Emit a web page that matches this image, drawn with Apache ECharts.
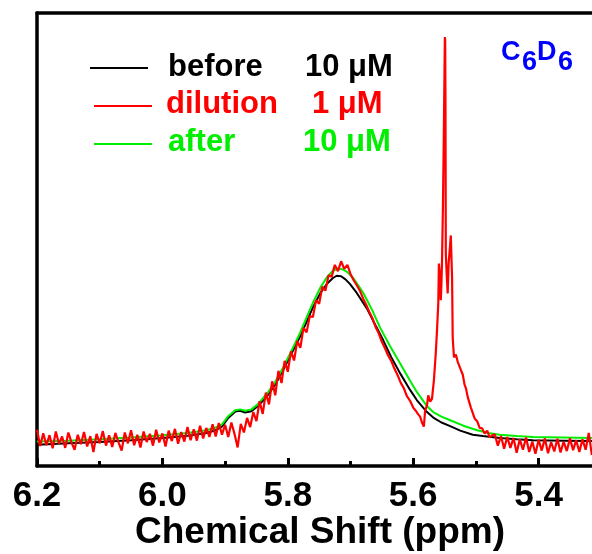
<!DOCTYPE html>
<html>
<head>
<meta charset="utf-8">
<script src="https://cdn.jsdelivr.net/npm/echarts@6/dist/echarts.min.js"></script>
<style>
  html, body { margin: 0; padding: 0; background: #fff; }
  #chart { width: 592px; height: 554px; }
</style>
</head>
<body>
<div id="chart"></div>
<script>
// 1H NMR signal in C6D6: [chemical shift (ppm), intensity (a.u.)]
const before = [
  [6.200, 4.7], [6.150, 5.0], [6.100, 5.3], [6.050, 5.7], [6.000, 6.2], [5.960, 6.7],
  [5.930, 7.3], [5.915, 7.9], [5.905, 8.7], [5.895, 10.6], [5.884, 12.0], [5.876, 12.2],
  [5.868, 11.8], [5.858, 12.1], [5.848, 13.2], [5.833, 15.4], [5.820, 18.0], [5.808, 21.0],
  [5.795, 24.6], [5.781, 28.4], [5.770, 31.8], [5.760, 35.0], [5.748, 38.2], [5.737, 40.3],
  [5.728, 41.5], [5.722, 42.0], [5.715, 41.9], [5.708, 41.2], [5.701, 40.2], [5.690, 38.2],
  [5.674, 34.8], [5.660, 31.0], [5.648, 27.8], [5.635, 24.0], [5.621, 20.5], [5.605, 16.8],
  [5.594, 14.5], [5.578, 11.9], [5.568, 10.7], [5.555, 9.6], [5.541, 8.8], [5.525, 7.8],
  [5.505, 6.9], [5.489, 6.6], [5.462, 6.2], [5.435, 5.9], [5.409, 5.7], [5.360, 5.6],
  [5.315, 5.5]
];

const after = [
  [6.200, 5.4], [6.150, 5.6], [6.100, 5.9], [6.050, 6.3], [6.000, 6.8], [5.960, 7.3],
  [5.930, 7.9], [5.915, 8.5], [5.905, 9.2], [5.895, 11.0], [5.884, 12.3], [5.876, 12.5],
  [5.868, 12.2], [5.858, 12.5], [5.848, 13.6], [5.833, 16.0], [5.820, 18.6], [5.808, 21.6],
  [5.795, 25.2], [5.781, 29.2], [5.770, 32.8], [5.760, 36.0], [5.748, 39.4], [5.737, 41.8],
  [5.728, 43.1], [5.720, 43.6], [5.712, 43.4], [5.705, 42.8], [5.695, 41.4], [5.680, 38.3],
  [5.665, 34.3], [5.653, 30.6], [5.637, 26.5], [5.621, 22.7], [5.605, 18.8], [5.594, 16.3],
  [5.578, 13.2], [5.568, 11.9], [5.555, 10.9], [5.541, 10.1], [5.520, 8.9], [5.498, 7.9],
  [5.480, 7.3], [5.462, 6.9], [5.435, 6.6], [5.409, 6.4], [5.360, 6.3], [5.315, 6.2]
];

const dilution = [
  [6.200, 8.0], [6.195, 4.4], [6.190, 7.2], [6.185, 4.6], [6.180, 6.8], [6.175, 3.9],
  [6.170, 7.6], [6.165, 4.9], [6.160, 6.5], [6.155, 4.0], [6.150, 7.4], [6.145, 5.2],
  [6.140, 3.6], [6.135, 6.9], [6.130, 4.8], [6.125, 7.5], [6.120, 4.3], [6.115, 6.6],
  [6.110, 3.1], [6.105, 7.1], [6.100, 5.0], [6.095, 7.7], [6.090, 4.5], [6.085, 6.8],
  [6.080, 4.2], [6.075, 7.3], [6.070, 5.2], [6.065, 3.4], [6.060, 7.4], [6.055, 5.0],
  [6.050, 7.9], [6.045, 4.6], [6.040, 6.9], [6.035, 4.1], [6.030, 7.6], [6.025, 5.3],
  [6.020, 7.1], [6.015, 4.5], [6.010, 8.0], [6.005, 5.2], [6.000, 7.2], [5.995, 4.3],
  [5.990, 7.8], [5.985, 5.5], [5.980, 8.2], [5.975, 4.9], [5.970, 7.5], [5.965, 5.4],
  [5.960, 8.6], [5.955, 5.7], [5.950, 8.1], [5.945, 5.6], [5.940, 8.9], [5.935, 6.1],
  [5.930, 8.4], [5.925, 6.4], [5.920, 9.2], [5.915, 6.5], [5.910, 9.5], [5.905, 6.9],
  [5.900, 9.1], [5.895, 6.4], [5.890, 9.6], [5.885, 7.1], [5.880, 4.1], [5.875, 9.3],
  [5.870, 7.4], [5.865, 10.6], [5.860, 8.6], [5.855, 11.9], [5.850, 9.9], [5.845, 14.3],
  [5.840, 11.5], [5.835, 16.2], [5.830, 13.6], [5.825, 18.7], [5.820, 15.6], [5.815, 21.0],
  [5.810, 18.3], [5.805, 23.2], [5.800, 20.8], [5.795, 25.3], [5.790, 23.3], [5.785, 27.6],
  [5.780, 26.1], [5.775, 30.5], [5.770, 29.5], [5.765, 33.1], [5.760, 32.9], [5.755, 36.6],
  [5.750, 35.8], [5.745, 39.6], [5.740, 38.7], [5.735, 42.1], [5.730, 41.8], [5.725, 44.4],
  [5.720, 43.0], [5.715, 45.2], [5.710, 43.5], [5.705, 44.4], [5.700, 42.4], [5.695, 41.0],
  [5.690, 39.9], [5.685, 38.7], [5.680, 37.0], [5.675, 35.6], [5.670, 34.0], [5.665, 32.6],
  [5.660, 30.7], [5.655, 29.3], [5.650, 27.4], [5.645, 26.0], [5.640, 24.4], [5.635, 23.2],
  [5.630, 21.5], [5.625, 20.1], [5.620, 18.4], [5.615, 17.2], [5.610, 15.4], [5.605, 14.4],
  [5.600, 12.9], [5.596, 12.2], [5.592, 11.4], [5.589, 10.9], [5.586, 9.6], [5.583, 8.7],
  [5.581, 12.2], [5.578, 13.4], [5.576, 15.6], [5.573, 14.2], [5.570, 14.8], [5.567, 18.9],
  [5.564, 24.9], [5.562, 30.0], [5.560, 35.9], [5.559, 44.7], [5.558, 43.0], [5.557, 43.2],
  [5.556, 36.6], [5.555, 40.0], [5.554, 45.4], [5.5525, 58.0], [5.551, 75.0], [5.5495, 94.7],
  [5.549, 94.0], [5.5485, 80.0], [5.548, 46.9], [5.5465, 42.0], [5.545, 38.1], [5.5435, 44.7],
  [5.541, 49.0], [5.540, 50.9], [5.539, 46.0], [5.538, 41.6], [5.537, 28.4], [5.535, 24.0],
  [5.532, 24.6], [5.529, 23.0], [5.526, 23.1], [5.524, 21.2], [5.521, 20.2], [5.518, 17.9],
  [5.516, 17.2], [5.513, 15.2], [5.511, 15.0], [5.508, 12.9], [5.505, 12.8], [5.502, 10.5],
  [5.498, 9.9], [5.494, 8.4], [5.490, 8.3], [5.486, 7.2], [5.482, 7.8], [5.478, 6.3],
  [5.474, 6.8], [5.470, 7.0], [5.465, 4.5], [5.460, 6.6], [5.455, 3.8], [5.450, 6.4],
  [5.445, 4.0], [5.440, 6.2], [5.435, 2.9], [5.430, 5.9], [5.425, 3.6], [5.420, 6.3],
  [5.415, 3.1], [5.410, 5.4], [5.405, 2.7], [5.400, 5.8], [5.395, 3.4], [5.390, 6.1],
  [5.385, 2.8], [5.380, 5.3], [5.375, 3.2], [5.370, 6.0], [5.365, 3.0], [5.360, 5.4],
  [5.355, 3.3], [5.350, 6.1], [5.345, 3.5], [5.340, 5.7], [5.335, 3.1], [5.330, 5.9],
  [5.325, 3.6], [5.320, 7.3], [5.315, 2.4]
];

const legendRows = [
  { name: 'before',   conc: '10 μM', color: '#000000' },
  { name: 'dilution', conc: '1 μM',  color: '#ff0000' },
  { name: 'after',    conc: '10 μM', color: '#00ee00' }
];

const FONT = '"Liberation Sans", Arial, sans-serif';
const chart = echarts.init(document.getElementById('chart'), null, { renderer: 'canvas' });

const axisLineStyle = { color: '#000', width: 3.5 };

// legend drawn as graphic elements: a short line sample and two text columns per row
const legendY = [67, 104, 142];
const legendLineX = [[90, 148], [94, 152], [94, 152]];
const legendLineY = [68, 106, 144];
const legendNameX = [168, 166, 168];
const legendConcX = [305, 312, 303];
const legendGraphics = [];
legendRows.forEach((row, i) => {
  legendGraphics.push({
    type: 'line',
    shape: { x1: legendLineX[i][0], y1: legendLineY[i], x2: legendLineX[i][1], y2: legendLineY[i] },
    style: { stroke: row.color, lineWidth: 2 }
  });
  legendGraphics.push({
    type: 'text', x: legendNameX[i], y: legendY[i],
    style: { text: row.name, fill: row.color, font: 'bold 31px ' + FONT, textAlign: 'left', textVerticalAlign: 'middle' }
  });
  legendGraphics.push({
    type: 'text', x: legendConcX[i], y: legendY[i],
    style: { text: row.conc, fill: row.color, font: 'bold 31px ' + FONT, textAlign: 'left', textVerticalAlign: 'middle' }
  });
});

// solvent label C6D6 with subscripted digits
const solventParts = [
  { t: 'C', x: 501, sub: false },
  { t: '6', x: 522, sub: true },
  { t: 'D', x: 537, sub: false },
  { t: '6', x: 558, sub: true }
];
const solventGraphics = solventParts.map(p => ({
  type: 'text', x: p.x, y: p.sub ? 63 : 53,
  style: { text: p.t, fill: '#0000ff', font: 'bold 27px ' + FONT, textAlign: 'left', textVerticalAlign: 'middle' }
}));

const option = {
  animation: false,
  backgroundColor: '#ffffff',
  // plot area runs past the right edge of the page, so 5.2 ppm is off-canvas
  grid: { left: 37, right: -72, top: 13, bottom: 88, containLabel: false, outerBoundsMode: 'none' },
  xAxis: [
    {
      type: 'value', inverse: true, min: 5.2, max: 6.2, interval: 0.2,
      position: 'bottom',
      axisLine: { show: true, lineStyle: axisLineStyle },
      axisTick: { show: true, inside: true, length: 8, lineStyle: { color: '#000', width: 3 } },
      minorTick: { show: true, splitNumber: 2, length: 5, lineStyle: { color: '#000', width: 3 } },
      axisLabel: {
        show: true, margin: 13, color: '#000', fontSize: 35, fontWeight: 'bold', fontFamily: FONT,
        formatter: v => v.toFixed(1)
      },
      splitLine: { show: false }
    },
    {
      type: 'value', inverse: true, min: 5.2, max: 6.2, position: 'top',
      axisLine: { show: true, lineStyle: axisLineStyle },
      axisTick: { show: false }, axisLabel: { show: false }, splitLine: { show: false }
    }
  ],
  yAxis: {
    type: 'value', min: 0, max: 100,
    axisLine: { show: true, lineStyle: axisLineStyle },
    axisTick: { show: false }, axisLabel: { show: false }, splitLine: { show: false }
  },
  series: [
    { name: 'before', type: 'line', data: before, showSymbol: false, lineStyle: { color: '#000', width: 2 }, z: 2 },
    { name: 'after', type: 'line', data: after, showSymbol: false, lineStyle: { color: '#00ee00', width: 2 }, z: 3 },
    { name: 'dilution', type: 'line', data: dilution, showSymbol: false, lineStyle: { color: '#ff0000', width: 2.2 }, z: 4 }
  ],
  graphic: [
    ...legendGraphics,
    ...solventGraphics,
    {
      type: 'text', x: 320, y: 533,
      style: { text: 'Chemical Shift (ppm)', fill: '#000', font: 'bold 37px ' + FONT, textAlign: 'center', textVerticalAlign: 'middle' }
    }
  ]
};

chart.setOption(option);
</script>
</body>
</html>
